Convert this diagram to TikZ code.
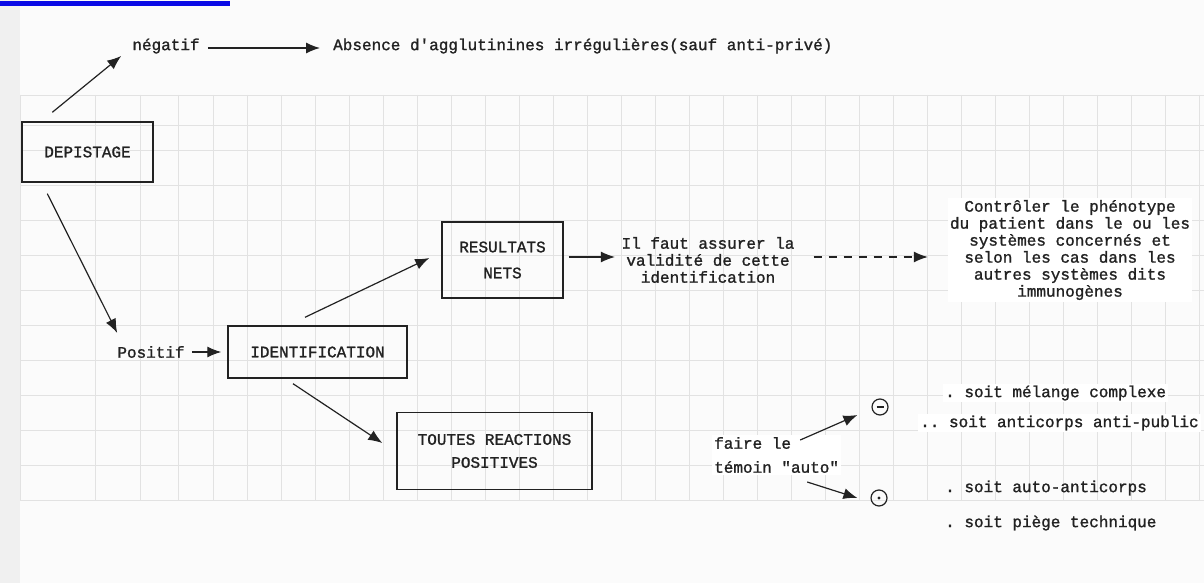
\documentclass[tikz,border=0pt]{standalone}
\usepackage{fontspec}
\setmonofont{Liberation Mono}[FakeBold=1.3]
\usetikzlibrary{arrows.meta,positioning}
\definecolor{inkcol}{HTML}{222222}
\definecolor{gridcol}{HTML}{E2E2E2}
\definecolor{barcol}{RGB}{10,10,230}

\begin{document}
\begin{tikzpicture}[
    x=1pt, y=-1pt,
    every node/.style={
        font=\ttfamily\fontsize{16}{17}\selectfont,
        text=inkcol,
        inner sep=2pt,
        align=center
    },
    boite/.style={
        draw=inkcol, line width=1.4pt,
        inner sep=0pt
    },
    fleche/.style={
        draw=inkcol, line width=1.2pt,
        -{Latex[length=14pt,width=11pt]}
    },
    signe/.style={
        circle, draw=inkcol, line width=1.2pt,
        minimum size=16pt, inner sep=0pt
    }
]
% fond de page
\useasboundingbox (0,0) rectangle (1204,583);
\fill[white!97!gray] (0,0) rectangle (1204,583);
\fill[gray!12] (0,0) rectangle (20,583);
\fill[barcol] (0,1) rectangle (230,6);
\foreach \ry in {95,125,150,185,220,255,290,325,360,395,430,465,500}
    \draw[gridcol, line width=0.8pt] (20,\ry) -- (1204,\ry);
\foreach \cx in {20,95,140,178,213,247,...,1200}
    \draw[gridcol, line width=0.8pt] (\cx,95) -- (\cx,500);

% noeuds
\node[boite, minimum width=131pt, minimum height=60pt] (depist) at (87.5,152) {DEPISTAGE};
\node (neg) at (166,46) {négatif};
\node[anchor=west] (absence) at (331,46) {Absence d'agglutinines irrégulières(sauf anti-privé)};
\node (positif) at (151,352) {Positif};
\node[boite, minimum width=179pt, minimum height=52pt] (ident) at (317.5,352) {IDENTIFICATION};
\node[boite, minimum width=121pt, minimum height=76pt,
      font=\ttfamily\fontsize{16}{26}\selectfont] (result) at (502.5,260) {RESULTATS\\NETS};
\node (valid) at (708,260) {Il faut assurer la\\validité de cette\\identification};
\node[fill=white] (ctrl) at (1070,250) {Contrôler le phénotype\\du patient dans le ou les\\systèmes concernés et\\selon les cas dans les\\autres systèmes dits\\immunogènes};
\node[boite, minimum width=195pt, minimum height=77pt,
      font=\ttfamily\fontsize{16}{23}\selectfont] (toutes) at (494.5,451) {TOUTES REACTIONS\\POSITIVES};
\node[anchor=west, align=left, fill=white,
      font=\ttfamily\fontsize{16}{24}\selectfont] (faire) at (712,455) {faire le\\témoin "auto"};
\node[signe] (moins) at (880,407) {\rule{7pt}{1.4pt}};
\node[signe] (plus) at (879,498) {};
\fill[inkcol] (plus.center) circle (1.7pt);
\node[anchor=west, fill=white] (s1) at (943,393) {. soit mélange complexe};
\node[anchor=west, fill=white] (s2) at (918,423) {.. soit anticorps anti-public};
\node[anchor=west] (s3) at (943,488) {. soit auto-anticorps};
\node[anchor=west] (s4) at (943,523) {. soit piège technique};

% fleches
\draw[fleche] ([xshift=31pt,yshift=9pt]depist.north west) -- ([xshift=-9pt,yshift=-10pt]neg.west);
\draw[fleche] ([xshift=6pt,yshift=-2pt]neg.east) -- ([xshift=-11pt,yshift=-2pt]absence.west);
\draw[fleche] ([xshift=26pt,yshift=-11pt]depist.south west) -- ([xshift=2pt,yshift=11pt]positif.north west);
\draw[fleche] ([xshift=5pt]positif.east) -- ([xshift=-6pt]ident.west);
\draw[fleche] ([xshift=-12.5pt,yshift=8pt]ident.north) -- ([xshift=-12pt,yshift=2pt]result.west);
\draw[fleche] ([xshift=5pt,yshift=3pt]result.east) -- ([xshift=-4.5pt,yshift=3pt]valid.west);
\draw[fleche, dash pattern=on 8pt off 7pt] ([xshift=17pt,yshift=3pt]valid.east) -- ([xshift=-20pt,yshift=-7pt]ctrl.west);
\draw[fleche] ([xshift=-24.5pt,yshift=-5pt]ident.south) -- ([xshift=-14pt,yshift=8pt]toutes.west);
\draw[fleche] ([xshift=-41pt,yshift=15pt]faire.east) -- ([xshift=-14pt,yshift=-8pt]moins.west);
\draw[fleche] ([xshift=-34pt,yshift=-27pt]faire.east) -- ([xshift=-13pt]plus.west);
\end{tikzpicture}
\end{document}
